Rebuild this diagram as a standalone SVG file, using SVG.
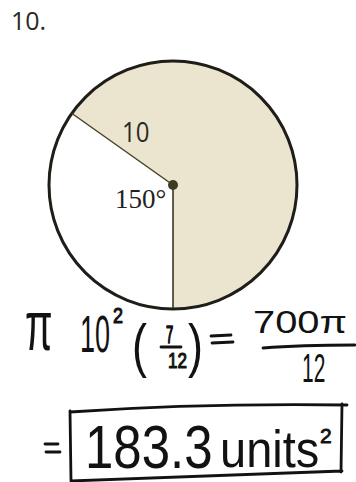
<svg xmlns="http://www.w3.org/2000/svg" width="356" height="482" viewBox="0 0 356 482">
<style>
.hand{font-family:"Liberation Sans","Arial",sans-serif;fill:#121212}
.bold{stroke:#121212;stroke-width:0.9;stroke-linejoin:round}
.ink{fill:none;stroke:#121212;stroke-width:2.8;stroke-linecap:round;stroke-linejoin:round}
.lbl{font-family:"Open Sans","Liberation Sans",sans-serif;fill:#2a2a20}
</style>
<rect width="356" height="482" fill="#ffffff"/>
<text class="lbl" x="11" y="30" font-size="25" fill="#333">10.</text>
<g id="circle">
  <path d="M173,185 L71.8,113.3 A124,124 0 1 1 173,309 Z" fill="#ebe5cf"/>
  <circle cx="173" cy="185" r="124" fill="none" stroke="#1f1d18" stroke-width="3"/>
</g>
<g id="connectors">
  <line x1="173" y1="185" x2="72" y2="113.5" stroke="#4a4226" stroke-width="1.5"/>
  <line x1="173" y1="185" x2="173" y2="308" stroke="#2b281e" stroke-width="1.5"/>
</g>
<g id="center"><circle cx="173" cy="185" r="5" fill="#3e3b24"/></g>
<g id="labels">
  <text class="lbl" transform="translate(122,142) scale(1,1.12)" font-size="24">10</text>
  <text x="115" y="208" font-family="'Liberation Serif',serif" font-size="27" fill="#222">150°</text>
</g>
<g id="equation1">
  <text class="hand" transform="translate(25,350) scale(1,1.76)" font-size="40">π</text>
  <text class="hand" transform="translate(80,352) scale(1,1.92)" font-size="27">10</text>
  <text class="hand bold" transform="translate(113,323) scale(1,1.24)" font-size="18">2</text>
  <text class="hand" transform="translate(132,366) scale(1,1.33)" font-size="45">(</text>
  <text class="hand bold" transform="translate(166,343) scale(1,1.78)" font-size="13">7</text>
  <line class="ink" x1="161" y1="347" x2="181" y2="347" stroke-width="2.2"/>
  <text class="hand bold" transform="translate(168,368) scale(1,1.31)" font-size="17">12</text>
  <text class="hand" transform="translate(188,366) scale(1,1.33)" font-size="45">)</text>
  <line class="ink" x1="211" y1="336" x2="231" y2="335"/>
  <line class="ink" x1="212" y1="343" x2="233" y2="342"/>
  <text class="hand" x="253" y="333" font-size="32" textLength="94" lengthAdjust="spacingAndGlyphs">700π</text>
  <path class="ink" d="M263,348 Q300,345 355,345"/>
  <text class="hand" transform="translate(302,382) scale(1,1.93)" font-size="21">12</text>
</g>
<g id="answer">
  <line class="ink" x1="45" y1="444" x2="58" y2="444"/>
  <line class="ink" x1="46" y1="452" x2="60" y2="452"/>
  <path class="ink" d="M70,412 Q200,403 347,405 M342,404 L341,472 M70,411 L71,481 M71,481 Q200,476 342,471"/>
  <text class="hand" transform="translate(85,468) scale(1,1.18)" font-size="51">183.3</text>
  <text class="hand" transform="translate(220,467) scale(1,1.1)" font-size="47">units</text>
  <text class="hand bold" x="320" y="443" font-size="21">2</text>
</g>
</svg>
